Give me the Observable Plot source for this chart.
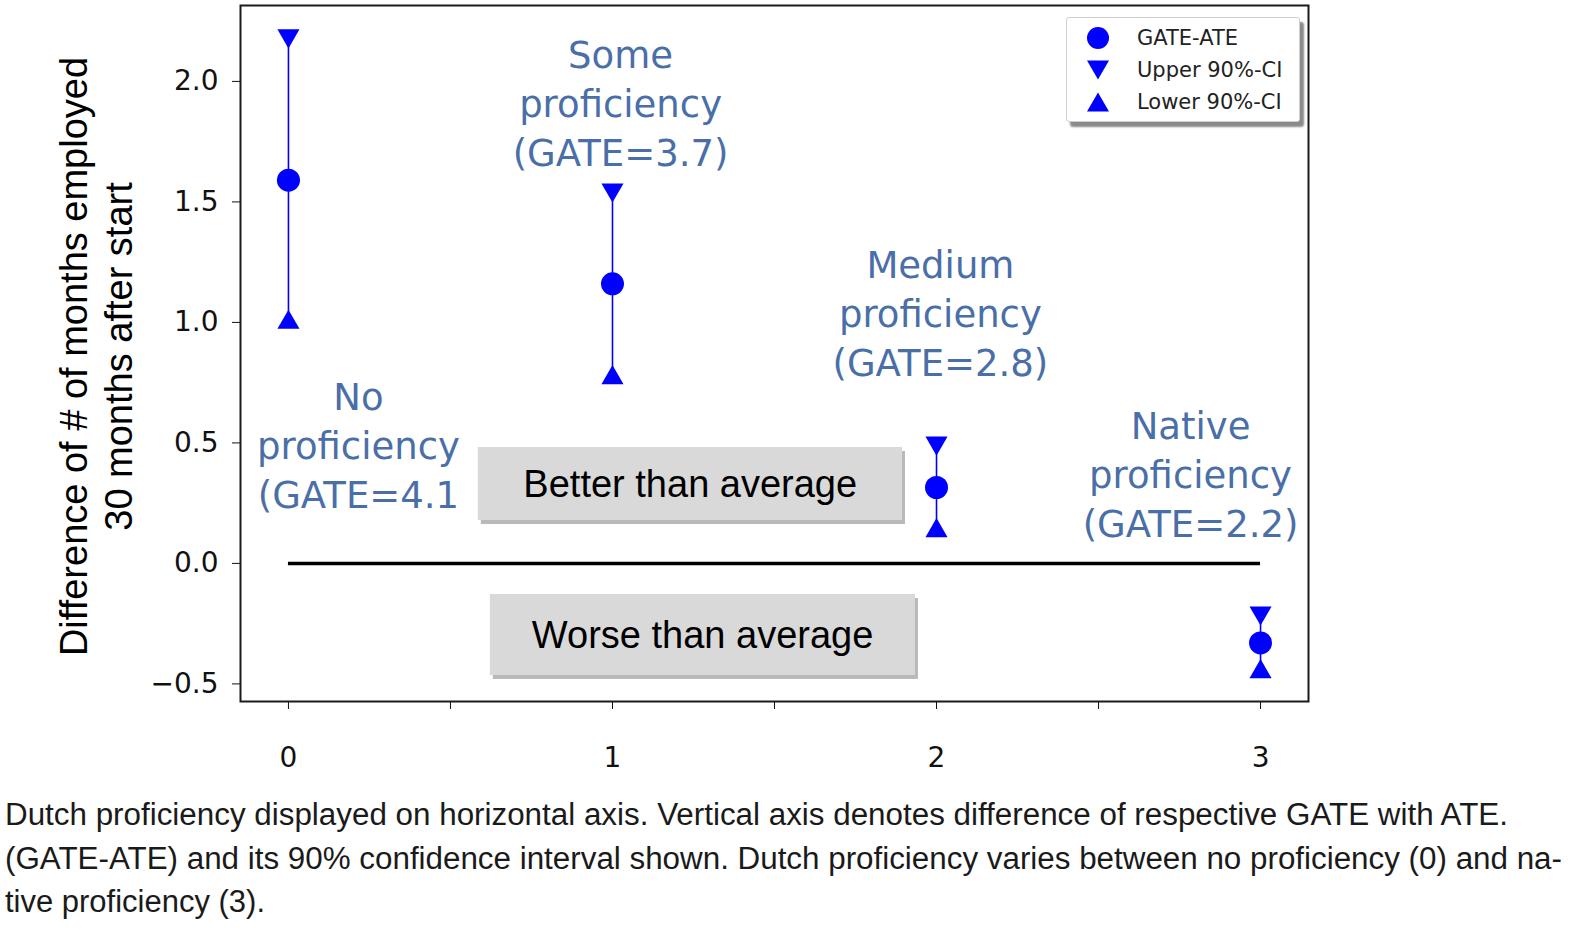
<!DOCTYPE html>
<html>
<head>
<meta charset="utf-8">
<script src="https://cdn.jsdelivr.net/npm/d3@7"></script>
<script src="https://cdn.jsdelivr.net/npm/@observablehq/plot@0.6"></script>
<style>
  html, body { margin: 0; padding: 0; background: white; }
  #fig { position: relative; width: 1595px; height: 941px; overflow: hidden; background: white; }
  #chart { position: absolute; left: 0; top: 0; }
  #legend { position: absolute; left: 1066px; top: 17px; width: 232px; height: 103px;
    background: white; border: 1.5px solid #cfcfcf; border-radius: 3px;
    box-shadow: 4px 5px 2px #8a8a8a; font-family: "DejaVu Sans", sans-serif; font-size: 21px; color: #222; }
  .lrow { position: absolute; left: 16px; height: 30px; display: flex; align-items: center; }
  .lrow svg { width: 30px; height: 30px; margin-right: 24px; }
  #caption { position: absolute; left: 5px; top: 793px; font-family: "Liberation Sans", Arial, sans-serif;
    font-size: 31px; line-height: 43.5px; color: #1a1a1a; }
  #caption div { white-space: nowrap; transform-origin: left center; width: max-content; }
</style>
</head>
<body>
<div id="fig">
  <div id="chart"></div>
  <div id="legend">
    <div class="lrow" style="top:5px"><svg viewBox="-15 -15 30 30"><circle r="11" fill="#0000ff"/></svg><span>GATE-ATE</span></div>
    <div class="lrow" style="top:37px"><svg viewBox="-15 -15 30 30"><path d="M-11,-9.5L11,-9.5L0,9.5Z" fill="#0000ff"/></svg><span>Upper 90%-CI</span></div>
    <div class="lrow" style="top:69px"><svg viewBox="-15 -15 30 30"><path d="M-11,9.5L11,9.5L0,-9.5Z" fill="#0000ff"/></svg><span>Lower 90%-CI</span></div>
  </div>
  <div id="caption">
    <div data-w="1503">Dutch proficiency displayed on horizontal axis. Vertical axis denotes difference of respective GATE with ATE.</div>
    <div data-w="1557">(GATE-ATE) and its 90% confidence interval shown. Dutch proficiency varies between no proficiency (0) and na-</div>
    <div data-w="260">tive proficiency (3).</div>
  </div>
</div>
<script>
// ---- data ----
const levels   = [0, 1, 2, 3];
const gateAte  = [1.59, 1.16, 0.315, -0.33];
const upperCI  = [2.19, 1.55, 0.50, -0.205];
const lowerCI  = [1.00, 0.77, 0.135, -0.45];
const groupLabels = ["No\nproficiency\n(GATE=4.1", "Some\nproficiency\n(GATE=3.7)",
                     "Medium\nproficiency\n(GATE=2.8)", "Native\nproficiency\n(GATE=2.2)"];
const yTicks = [-0.5, 0, 0.5, 1.0, 1.5, 2.0];
const xTicks = [0, 0.5, 1, 1.5, 2, 2.5, 3];
const yLabel = "Difference of # of months employed\n30 months after start";

// ---- annotation layout (data units) ----
const groupLabelX = [0.216, 1.025, 2.012, 2.784];
const groupLabelY = [0.498, 1.917, 1.046, 0.378];
const boxes = [
  {text: "Better than average", x1: 0.586, x2: 1.895, y1: 0.178, y2: 0.481, tx: 1.24, ty: 0.328},
  {text: "Worse than average",  x1: 0.623, x2: 1.935, y1: -0.465, y2: -0.129, tx: 1.278, ty: -0.299}
];

const rows = levels.map((x, i) => ({x, est: gateAte[i], hi: upperCI[i], lo: lowerCI[i]}));
const labels = groupLabels.map((t, i) => ({t, x: groupLabelX[i], y: groupLabelY[i]}));
const blue = "#0000ff";

const plot = Plot.plot({
  width: 1595, height: 790,
  marginLeft: 240, marginRight: 287, marginTop: 5, marginBottom: 89,
  style: {fontFamily: "DejaVu Sans, sans-serif", fontSize: "28px", color: "#111", background: "white"},
  x: {domain: [-0.148, 3.148], ticks: xTicks, tickFormat: d => Number.isInteger(d) ? String(d) : "",
      tickSize: 8, tickPadding: 38, label: null},
  y: {domain: [-0.573, 2.315], ticks: yTicks, tickFormat: d3.format(".1f"),
      tickSize: 8, tickPadding: 14, label: null},
  marks: [
    Plot.rect(boxes, {x1: "x1", x2: "x2", y1: "y1", y2: "y2", fill: "#8a8a8a", fillOpacity: 0.6, dx: 3, dy: 4, ariaLabel: "shadow"}),
    Plot.rect(boxes, {x1: "x1", x2: "x2", y1: "y1", y2: "y2", fill: "#d9d9d9"}),
    Plot.text(boxes, {x: "tx", y: "ty", text: "text", fill: "#000", fontSize: 38,
                      fontFamily: "Liberation Sans, Arial, sans-serif"}),
    Plot.ruleY([0], {x1: () => d3.min(levels), x2: () => d3.max(levels), stroke: "#000", strokeWidth: 3.5}),
    Plot.ruleX(rows, {x: "x", y1: "lo", y2: "hi", stroke: blue, strokeWidth: 1.6}),
    Plot.dot(rows, {x: "x", y: "est", r: 11.5, fill: blue, symbol: "circle"}),
    Plot.dot(rows, {x: "x", y: "hi", r: 8.2, fill: blue, symbol: "triangle", rotate: 180}),
    Plot.dot(rows, {x: "x", y: "lo", r: 8.2, fill: blue, symbol: "triangle"}),
    Plot.text(labels, {x: "x", y: "y", text: "t", fill: "#4a6fa8", fontSize: 37, lineHeight: 1.33,
                       fontFamily: "DejaVu Sans, sans-serif"}),
    Plot.text([yLabel], {text: d => d, frameAnchor: "left", textAnchor: "middle", rotate: -90, dx: -145, dy: 3,
                         fontSize: 38, lineHeight: 1.18, fill: "#000", fontFamily: "Liberation Sans, Arial, sans-serif"}),
    Plot.frame({stroke: "#1a1a1a", strokeWidth: 2})
  ]
});
document.getElementById("chart").appendChild(plot);

// blur for box shadows
const svg = d3.select(plot);
svg.insert("defs", ":first-child").append("filter").attr("id", "blur")
   .attr("x", "-10%").attr("y", "-10%").attr("width", "120%").attr("height", "130%")
   .append("feGaussianBlur").attr("stdDeviation", 2);
svg.selectAll("g[aria-label='shadow']").attr("filter", "url(#blur)");

// fit caption lines to their widths
document.querySelectorAll("#caption div").forEach(el => {
  const w = el.getBoundingClientRect().width;
  const target = +el.dataset.w;
  el.style.transform = `scaleX(${target / w})`;
});
</script>
</body>
</html>
